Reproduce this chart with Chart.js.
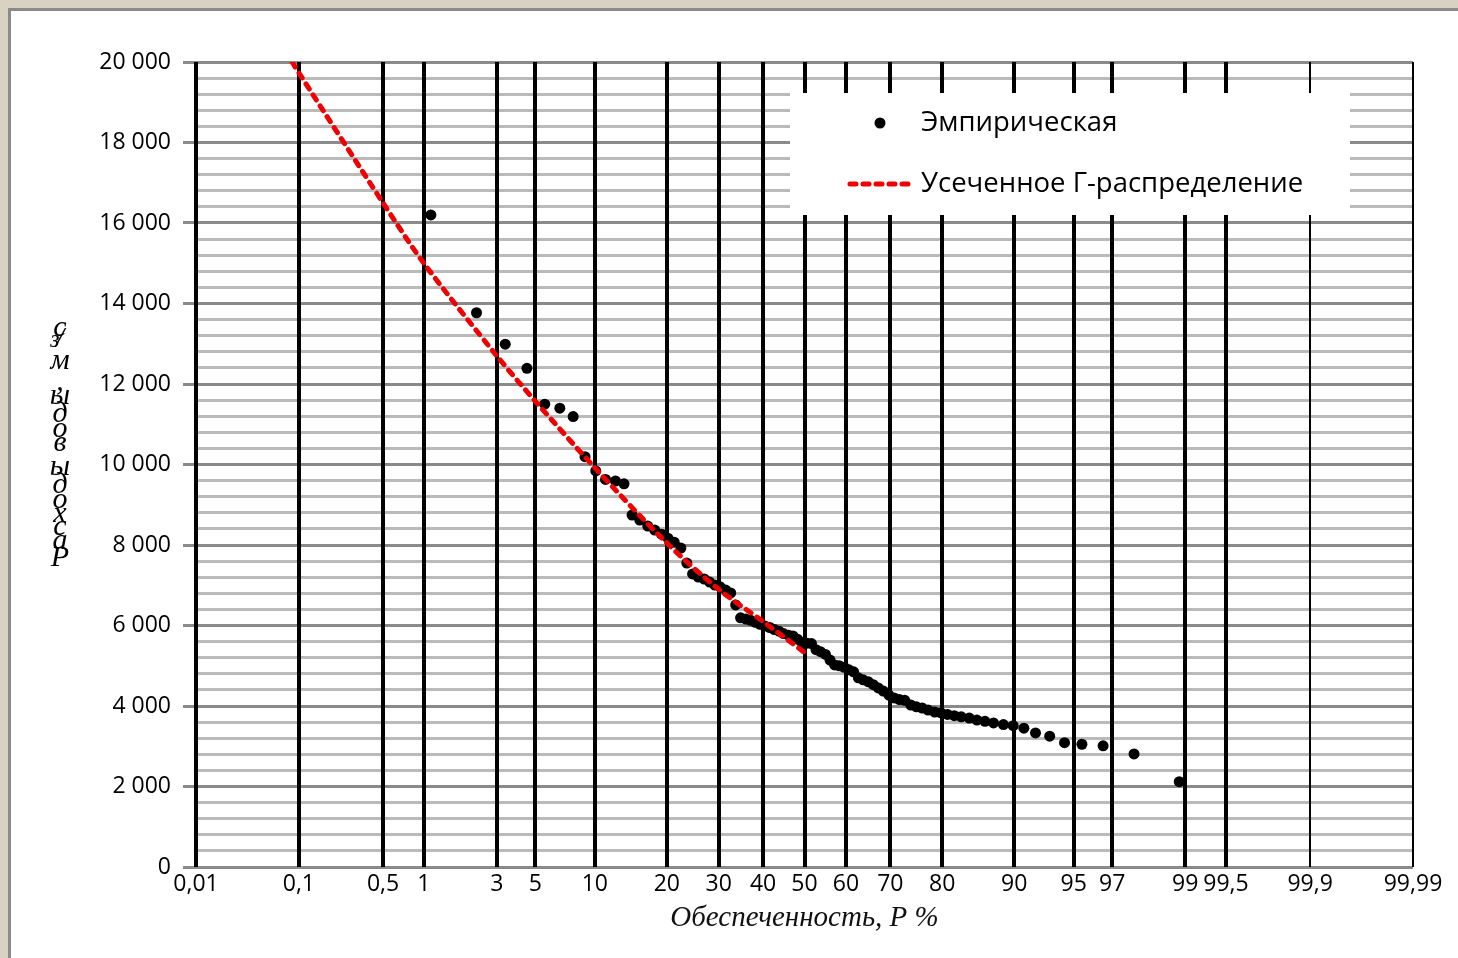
<!DOCTYPE html>
<html>
<head>
<meta charset="utf-8">
<script src="https://cdn.jsdelivr.net/npm/chart.js@4"></script>
<style>
  html, body { margin: 0; padding: 0; }
  body { width: 1458px; height: 958px; background: #d9d1c1; position: relative; overflow: hidden; }
  #frame { position: absolute; left: 8px; top: 8px; width: 1460px; height: 960px; background: #fff;
           border-left: 3px solid #8a8a8a; border-top: 3px solid #8a8a8a; }
  #chart { position: absolute; left: 0; top: 0; }
</style>
</head>
<body>
<div id="frame"></div>
<canvas id="chart" width="1458" height="958"></canvas>
<script>
// probability axis ticks, %
const probTicks = [0.01, 0.1, 0.5, 1, 3, 5, 10, 20, 30, 40, 50, 60, 70, 80, 90, 95, 97, 99, 99.5, 99.9, 99.99]
const probLabels = ['0,01', '0,1', '0,5', '1', '3', '5', '10', '20', '30', '40', '50', '60', '70', '80', '90', '95', '97', '99', '99,5', '99,9', '99,99']

// empirical points: exceedance probability (%) and discharge (m3/s)
const empP = [1.12, 2.25, 3.37, 4.49, 5.62, 6.74, 7.87, 8.99, 10.1, 11.2,
  12.4, 13.5, 14.6, 15.7, 16.9, 18.0, 19.1, 20.2, 21.3, 22.5,
  23.6, 24.7, 25.8, 27.0, 28.1, 29.2, 30.3, 31.5, 32.6, 33.7,
  34.8, 36.0, 37.1, 38.2, 39.3, 40.4, 41.6, 42.7, 43.8, 44.9,
  46.1, 47.2, 48.3, 49.4, 50.6, 51.7, 52.8, 53.9, 55.1, 56.2,
  57.3, 58.4, 59.6, 60.7, 61.8, 62.9, 64.0, 65.2, 66.3, 67.4,
  68.5, 69.7, 70.8, 71.9, 73.0, 74.2, 75.3, 76.4, 77.5, 78.7,
  79.8, 80.9, 82.0, 83.1, 84.3, 85.4, 86.5, 87.6, 88.8, 89.9,
  91.0, 92.1, 93.3, 94.4, 95.5, 96.6, 97.8, 98.9]
const empQ = [16200, 13770, 12990, 12390, 11500, 11400, 11190, 10195, 9840, 9630,
  9590, 9520, 8745, 8620, 8470, 8370, 8270, 8170, 8070, 7925,
  7550, 7280, 7205, 7155, 7080, 7005, 6960, 6880, 6810, 6510,
  6190, 6160, 6130, 6080, 6030, 5990, 5950, 5900, 5860, 5800,
  5760, 5740, 5660, 5580, 5560, 5550, 5400, 5350, 5280, 5140,
  5020, 5000, 4960, 4900, 4850, 4700, 4650, 4600, 4530, 4450,
  4370, 4270, 4200, 4160, 4140, 4025, 3980, 3950, 3900, 3850,
  3830, 3790, 3760, 3730, 3700, 3650, 3620, 3580, 3540, 3510,
  3450, 3330, 3250, 3090, 3050, 3010, 2810, 2120]

// truncated gamma curve
const lineP = [0.087, 0.1, 0.5, 1, 3, 5, 10, 20, 30, 40, 50]
const lineQ = [20000, 19730, 16500, 15000, 12700, 11570, 9920, 8050, 6900, 6100, 5330]

const yTitle = 'Расходы воды, м³/с'
const xTitle = 'Обеспеченность, P %'

// normal quantile (Acklam) - maps % to the probability-paper axis
function probToZ(pct) {
  const p = pct / 100
  const a = [-3.969683028665376e+01, 2.209460984245205e+02, -2.759285104469687e+02, 1.383577518672690e+02, -3.066479806614716e+01, 2.506628277459239e+00]
  const b = [-5.447609879822406e+01, 1.615858368580409e+02, -1.556989798598866e+02, 6.680131188771972e+01, -1.328068155288572e+01]
  const c = [-7.784894002430293e-03, -3.223964580411365e-01, -2.400758277161838e+00, -2.549671010229583e+00, 4.374664141464968e+00, 2.938163982698783e+00]
  const d = [7.784695709041462e-03, 3.224671290700398e-01, 2.445134137142996e+00, 3.754408661907416e+00]
  const pl = 0.02425
  let q, r
  if (p < pl) {
    q = Math.sqrt(-2 * Math.log(p))
    return (((((c[0]*q+c[1])*q+c[2])*q+c[3])*q+c[4])*q+c[5]) / ((((d[0]*q+d[1])*q+d[2])*q+d[3])*q+1)
  }
  if (p > 1 - pl) {
    q = Math.sqrt(-2 * Math.log(1 - p))
    return -(((((c[0]*q+c[1])*q+c[2])*q+c[3])*q+c[4])*q+c[5]) / ((((d[0]*q+d[1])*q+d[2])*q+d[3])*q+1)
  }
  q = p - 0.5
  r = q * q
  return (((((a[0]*r+a[1])*r+a[2])*r+a[3])*r+a[4])*r+a[5])*q / (((((b[0]*r+b[1])*r+b[2])*r+b[3])*r+b[4])*r+1)
}

const zMin = probToZ(probTicks[0])
const zMax = probToZ(probTicks[probTicks.length - 1])

// vertical stacked axis title (glyphs upright, laid out bottom to top)
const stackedYTitle = {
  id: 'stackedYTitle',
  afterDraw(chart) {
    const ctx = chart.ctx
    ctx.save()
    ctx.font = 'italic 30px "Liberation Serif"'
    ctx.fillStyle = '#000'
    ctx.textAlign = 'center'
    ctx.textBaseline = 'middle'
    const total = ctx.measureText(yTitle).width
    let pos = 446 + total / 2
    for (const ch of Array.from(yTitle)) {
      const w = ctx.measureText(ch).width
      ctx.fillText(ch, ch === '³' ? 54 : 60, pos - w / 2)
      pos -= w
    }
    ctx.restore()
  }
}

// legend box drawn inside the plot
const boxLegend = {
  id: 'boxLegend',
  afterDraw(chart) {
    const ctx = chart.ctx
    const ds = chart.data.datasets
    ctx.save()
    ctx.fillStyle = '#fff'
    ctx.fillRect(790, 93, 560, 122)
    ctx.font = '27.5px "Open Sans"'
    ctx.textBaseline = 'middle'
    // points
    ctx.beginPath()
    ctx.arc(880, 123, 5.5, 0, Math.PI * 2)
    ctx.fillStyle = ds[0].pointBackgroundColor
    ctx.fill()
    ctx.fillStyle = '#000'
    ctx.fillText(ds[0].label, 921, 123)
    // line
    ctx.strokeStyle = ds[1].borderColor
    ctx.lineWidth = ds[1].borderWidth
    ctx.lineCap = 'round'
    ctx.setLineDash(ds[1].borderDash)
    ctx.beginPath()
    ctx.moveTo(850, 184)
    ctx.lineTo(913, 184)
    ctx.stroke()
    ctx.setLineDash([])
    ctx.fillText(ds[1].label, 921, 184)
    ctx.restore()
  }
}

const ctx = document.getElementById('chart')
new Chart(ctx, {
  type: 'scatter',
  data: {
    datasets: [
      {
        label: 'Эмпирическая',
        data: empP.map((p, i) => ({ x: probToZ(p), y: empQ[i] })),
        pointBackgroundColor: '#000',
        pointBorderWidth: 0,
        pointRadius: 5.5,
        order: 1
      },
      {
        type: 'line',
        label: 'Усеченное Г-распределение',
        data: lineP.map((p, i) => ({ x: probToZ(p), y: lineQ[i] })),
        borderColor: '#f00000',
        borderWidth: 5,
        borderDash: [6, 7],
        borderCapStyle: 'round',
        pointRadius: 0,
        tension: 0.3,
        fill: false,
        order: 0
      }
    ]
  },
  options: {
    responsive: false,
    animation: false,
    devicePixelRatio: 1,
    layout: { padding: { top: 62, right: 45, left: 0, bottom: 0 } },
    plugins: {
      legend: { display: false },
      tooltip: { enabled: false }
    },
    scales: {
      y: {
        min: 0,
        max: 20000,
        afterFit(scale) { scale.width = 196 },
        border: { display: false },
        grid: {
          lineWidth: 3,
          color: c => (c.tick && c.tick.value % 2000 === 0) ? '#8a8a8a' : '#bababa',
          tickColor: c => (c.tick && c.tick.value % 2000 === 0) ? '#8a8a8a' : 'rgba(0,0,0,0)',
          tickLength: 13
        },
        ticks: {
          stepSize: 400,
          maxTicksLimit: 100,
          autoSkip: false,
          padding: 12,
          color: '#000',
          font: { family: 'Open Sans', size: 23 },
          callback: v => v % 2000 !== 0 ? '' : (v === 0 ? '0' : (v / 1000) + ' 000')
        }
      },
      x: {
        type: 'linear',
        min: zMin,
        max: zMax,
        afterFit(scale) { scale.height = 91 },
        afterBuildTicks(scale) {
          scale.ticks = probTicks.map(p => ({ value: probToZ(p) }))
        },
        border: { display: false },
        grid: {
          color: '#000',
          lineWidth: c => (c.index >= 19 ? 2 : 4),
          drawTicks: false
        },
        ticks: {
          autoSkip: false,
          maxRotation: 0,
          padding: 4,
          color: '#000',
          font: { family: 'Open Sans', size: 23 },
          callback: (v, i) => probLabels[i]
        },
        title: {
          display: true,
          text: xTitle,
          color: '#111',
          font: { family: 'Liberation Serif', style: 'italic', size: 29 },
          padding: { top: 0, bottom: 22 }
        }
      }
    }
  },
  plugins: [stackedYTitle, boxLegend]
})
</script>
</body>
</html>
